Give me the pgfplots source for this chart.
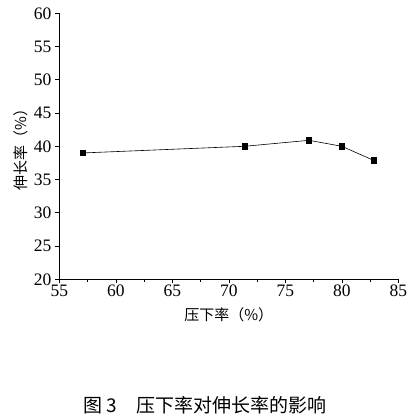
\documentclass[border=0pt]{standalone}
\usepackage{pgfplots}
\pgfplotsset{compat=1.18}
\usepackage{fontspec}
\setmainfont{Liberation Serif}
\newfontfamily\cjk{Noto Sans CJK SC}

\begin{document}
\begin{tikzpicture}[x=1pt,y=1pt]
  \useasboundingbox (0,0) rectangle (417,419);
  \begin{axis}[
    at={(59.3pt,139.7pt)},
    anchor=south west,
    scale only axis,
    width=339pt,
    height=266pt,
    xmin=55, xmax=85,
    ymin=20, ymax=60,
    xtick={55,60,...,85},
    ytick={20,25,...,60},
    minor x tick num=1,
    axis x line*=bottom,
    axis y line*=left,
    tick align=outside,
    major tick length=4pt,
    minor tick length=2.5pt,
    tick style={black, line width=0.6pt},
    axis line style={line width=0.8pt},
    ticklabel style={font=\fontsize{17.5}{18}\selectfont},
    /pgf/number format/assume math mode=true,
    xticklabel style={yshift=2pt},
    yticklabel style={xshift=-0.5pt},
    xlabel={\cjk\fontsize{15}{16}\selectfont 压下率（\%）},
    ylabel={\cjk\fontsize{15}{16}\selectfont 伸长率（\%）},
    xlabel style={yshift=-4pt},
    ylabel style={yshift=-1pt},
  ]
    \addplot[black, line width=0.6pt, mark=square*, mark size=2.6pt]
      coordinates {(57.1,39.0) (71.4,40.0) (77.1,40.9) (80.0,40.0) (82.8,37.9)};
  \end{axis}
  \node at (205,14) {\cjk\fontsize{19}{20}\selectfont 图 3\quad 压下率对伸长率的影响};
\end{tikzpicture}
\end{document}
